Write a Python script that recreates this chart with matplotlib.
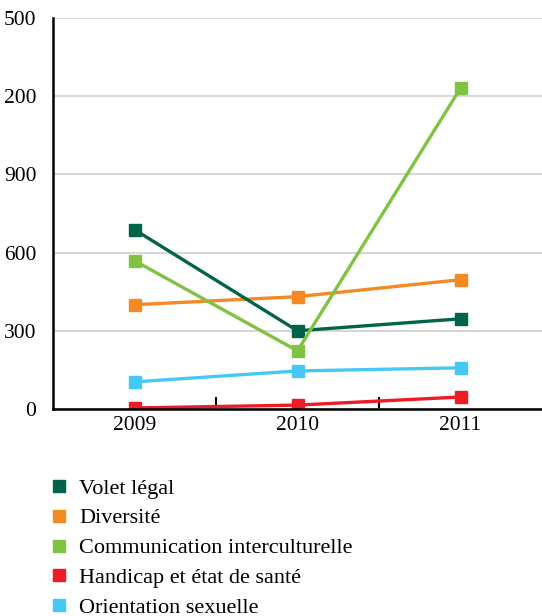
import numpy as np
import matplotlib.pyplot as plt
from matplotlib.lines import Line2D

# ==========================
# DATA
# ==========================
years = ["2009", "2010", "2011"]
volet_legal = [688, 300, 346]
diversite = [400, 431, 496]
communication = [569, 223, 1231]
handicap = [4, 15, 46]
orientation = [104, 146, 158]

y_ticks = [0, 300, 600, 900, 1200, 1500]
y_tick_labels = ["0", "300", "600", "900", "200", "500"]

series = [
    ("Volet légal", volet_legal, "#00634a"),
    ("Diversité", diversite, "#f58a24"),
    ("Communication interculturelle", communication, "#80c342"),
    ("Handicap et état de santé", handicap, "#ee1c25"),
    ("Orientation sexuelle", orientation, "#45c8f5"),
]

plt.rcParams.update({
    "font.family": "Liberation Serif",
    "font.size": 15.5,
})

fig = plt.figure(figsize=(5.42, 6.16), dpi=100)
ax = fig.add_axes([53 / 542, 1 - 409 / 616, 1 - 53 / 542, (409 - 18) / 616])

x = np.arange(len(years))
# draw order: back to front as in reference
for name, vals, col in [series[4], series[3], series[1], series[0], series[2]]:
    ax.plot(x, vals, "-", color=col, lw=2.4, marker="s", ms=8, zorder=3,
            solid_capstyle="butt")

ax.set_xlim(-0.5, 2.5)
ax.set_ylim(0, 1500)
ax.set_yticks(y_ticks)
ax.set_yticklabels(y_tick_labels)
ax.set_xticks(x)
ax.set_xticklabels(years)
ax.set_xticks([0.5, 1.5], minor=True)

ax.grid(axis="y", color="#d0d0d0", lw=1.2, zorder=0)
ax.tick_params(axis="y", length=0, pad=12, labelsize=15.5)
ax.tick_params(axis="x", which="major", length=0, pad=5, labelsize=15.5)
ax.tick_params(axis="x", which="minor", direction="in", length=9, width=1.5, color="black")

for side in ["top", "right"]:
    ax.spines[side].set_visible(False)
ax.spines["left"].set_linewidth(1.8)
ax.spines["bottom"].set_linewidth(1.8)
ax.spines["left"].set_zorder(4)
ax.spines["bottom"].set_zorder(4)

handles = [Line2D([], [], linestyle="none", marker="s", ms=8, color=col)
           for _, _, col in series]
labels = [name for name, _, _ in series]
fig.legend(handles, labels, loc="upper left", bbox_to_anchor=(50 / 542, 1 - 478 / 616),
           frameon=False, handlelength=0.8, handletextpad=0.5, labelspacing=0.42,
           borderaxespad=0, borderpad=0, fontsize=16)

fig.savefig("out.png", dpi=100)
